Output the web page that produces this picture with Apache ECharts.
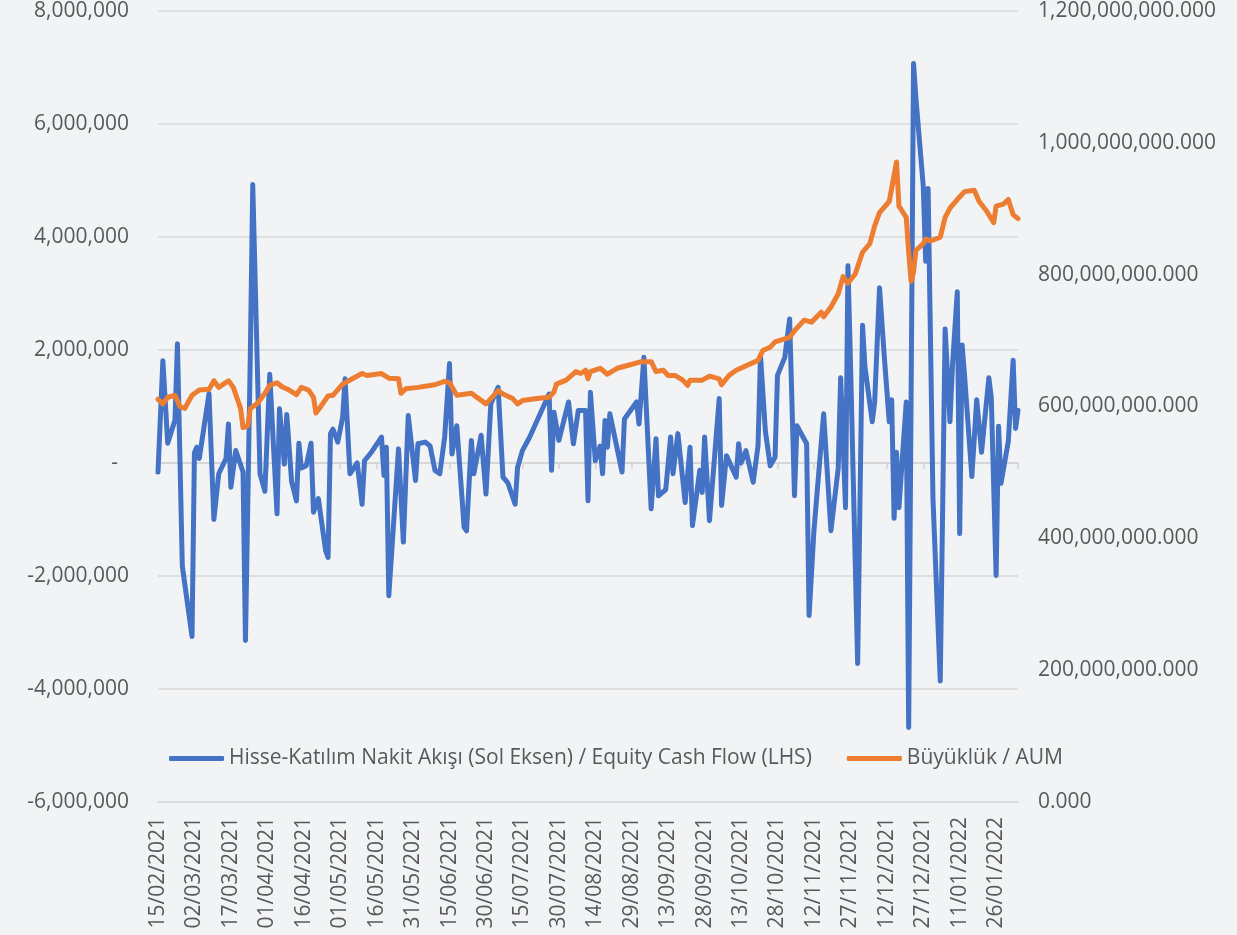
<!DOCTYPE html>
<html>
<head>
<meta charset="utf-8">
<title>Hisse-Katılım Nakit Akışı / Büyüklük</title>
<script src="https://cdn.jsdelivr.net/npm/echarts@6/dist/echarts.min.js"></script>
<style>
  html, body { margin: 0; padding: 0; background: #f2f3f5; }
  #chart { width: 1237px; height: 935px; }
</style>
</head>
<body>
<div id="chart"></div>
<script>
// Hisse-Katılım nakit akışı, milyon (sol eksen)
var flowDates = [
  '2021-02-15','2021-02-17','2021-02-19','2021-02-22','2021-02-23','2021-02-25',
  '2021-03-01','2021-03-02','2021-03-03','2021-03-04','2021-03-08','2021-03-10','2021-03-12','2021-03-15','2021-03-16','2021-03-17','2021-03-19','2021-03-22','2021-03-23','2021-03-25','2021-03-26','2021-03-29','2021-03-31',
  '2021-04-02','2021-04-05','2021-04-06','2021-04-08','2021-04-09','2021-04-11','2021-04-13','2021-04-14','2021-04-15','2021-04-17','2021-04-19','2021-04-20','2021-04-22','2021-04-25','2021-04-26','2021-04-27','2021-04-28','2021-04-30',
  '2021-05-02','2021-05-03','2021-05-05','2021-05-08','2021-05-10','2021-05-11','2021-05-14','2021-05-18','2021-05-19','2021-05-20','2021-05-21','2021-05-25','2021-05-27','2021-05-29',
  '2021-06-01','2021-06-02','2021-06-05','2021-06-07','2021-06-09','2021-06-11','2021-06-13','2021-06-15','2021-06-16','2021-06-18','2021-06-21','2021-06-22','2021-06-24','2021-06-25','2021-06-28','2021-06-30',
  '2021-07-02','2021-07-05','2021-07-07','2021-07-09','2021-07-12','2021-07-13','2021-07-15','2021-07-18','2021-07-26','2021-07-27','2021-07-28','2021-07-30',
  '2021-08-03','2021-08-05','2021-08-07','2021-08-10','2021-08-11','2021-08-12','2021-08-14','2021-08-16','2021-08-17','2021-08-18','2021-08-19','2021-08-20','2021-08-25','2021-08-26','2021-08-31',
  '2021-09-01','2021-09-03','2021-09-06','2021-09-08','2021-09-09','2021-09-12','2021-09-14','2021-09-15','2021-09-17','2021-09-20','2021-09-22','2021-09-23','2021-09-26','2021-09-27','2021-09-28','2021-09-30',
  '2021-10-04','2021-10-05','2021-10-07','2021-10-11','2021-10-12','2021-10-13','2021-10-15','2021-10-18','2021-10-20','2021-10-21','2021-10-23','2021-10-25','2021-10-27','2021-10-28','2021-10-31',
  '2021-11-02','2021-11-04','2021-11-05','2021-11-09','2021-11-10','2021-11-12','2021-11-16','2021-11-19','2021-11-22','2021-11-23','2021-11-25','2021-11-26','2021-11-27','2021-11-30',
  '2021-12-02','2021-12-03','2021-12-06','2021-12-07','2021-12-09','2021-12-11','2021-12-13','2021-12-14','2021-12-15','2021-12-16','2021-12-17','2021-12-20','2021-12-21','2021-12-23','2021-12-24','2021-12-27','2021-12-28','2021-12-29','2021-12-31',
  '2022-01-03','2022-01-05','2022-01-07','2022-01-08','2022-01-10','2022-01-11','2022-01-12','2022-01-13','2022-01-16','2022-01-18','2022-01-20','2022-01-23','2022-01-24','2022-01-26','2022-01-27','2022-01-28','2022-01-31',
  '2022-02-02','2022-02-03','2022-02-04'
];
var flowValues = [
  -0.16, 1.81, 0.35, 0.76, 2.11, -1.82,
  -3.07, 0.18, 0.28, 0.08, 1.23, -1.0, -0.19, 0.08, 0.69, -0.43, 0.22, -0.16, -3.14, 1.91, 4.93, -0.19, -0.5,
  1.57, -0.9, 0.96, -0.02, 0.86, -0.33, -0.67, 0.35, -0.09, -0.05, 0.35, -0.87, -0.63, -1.55, -1.67, 0.52, 0.6, 0.37,
  0.81, 1.49, -0.19, 0.0, -0.73, 0.04, 0.2, 0.46, -0.22, 0.28, -2.35, 0.25, -1.4, 0.84,
  -0.31, 0.34, 0.37, 0.3, -0.13, -0.19, 0.46, 1.76, 0.16, 0.66, -1.14, -1.2, 0.4, -0.19, 0.49, -0.55,
  1.05, 1.34, -0.25, -0.35, -0.73, -0.08, 0.22, 0.46, 1.22, -0.13, 0.9, 0.4,
  1.08, 0.34, 0.93, 0.93, -0.67, 1.25, 0.04, 0.3, -0.19, 0.75, 0.28, 0.87, -0.16, 0.78, 1.08,
  0.69, 1.87, -0.81, 0.43, -0.58, -0.47, 0.46, -0.19, 0.52, -0.7, 0.28, -1.11, -0.13, -0.52, 0.46, -1.02,
  1.14, -0.75, 0.13, -0.25, 0.34, 0.0, 0.22, -0.34, 0.31, 1.9, 0.57, -0.05, 0.1, 1.55, 1.87,
  2.55, -0.58, 0.66, 0.34, -2.7, -1.2, 0.87, -1.2, -0.09, 1.51, -0.79, 3.49, 1.86, -3.55,
  2.44, 1.7, 0.73, 1.08, 3.1, 1.86, 0.73, 1.12, -0.98, 0.19, -0.79, 1.08, -4.68, 7.07, 6.45, 4.9, 3.57, 4.86, -0.63,
  -3.86, 2.37, 0.73, 1.7, 3.03, -1.25, 2.09, 1.55, -0.24, 1.12, 0.19, 1.51, 1.16, -1.99, 0.65, -0.36, 0.38,
  1.82, 0.61, 0.93
];

// Büyüklük (AUM), milyon (sağ eksen)
var aumDates = [
  '2021-02-15','2021-02-17','2021-02-19','2021-02-22','2021-02-24','2021-02-26',
  '2021-03-01','2021-03-04','2021-03-08','2021-03-10','2021-03-12','2021-03-16','2021-03-18','2021-03-21','2021-03-22','2021-03-24','2021-03-25','2021-03-28','2021-03-31',
  '2021-04-02','2021-04-05','2021-04-07','2021-04-10','2021-04-13','2021-04-15','2021-04-18','2021-04-20','2021-04-21','2021-04-23','2021-04-26','2021-04-28',
  '2021-05-02','2021-05-06','2021-05-10','2021-05-12','2021-05-18','2021-05-21','2021-05-25','2021-05-26','2021-05-28',
  '2021-06-02','2021-06-09','2021-06-13','2021-06-15','2021-06-18','2021-06-24','2021-06-30',
  '2021-07-02','2021-07-05','2021-07-07','2021-07-11','2021-07-13','2021-07-15','2021-07-21','2021-07-26','2021-07-28','2021-07-29',
  '2021-08-02','2021-08-06','2021-08-08','2021-08-10','2021-08-11','2021-08-12','2021-08-16','2021-08-19','2021-08-23','2021-08-28',
  '2021-09-02','2021-09-06','2021-09-08','2021-09-11','2021-09-13','2021-09-16','2021-09-19','2021-09-21','2021-09-22','2021-09-27','2021-09-30',
  '2021-10-04','2021-10-05','2021-10-08','2021-10-11','2021-10-20','2021-10-22','2021-10-25','2021-10-27',
  '2021-11-02','2021-11-04','2021-11-08','2021-11-11','2021-11-15','2021-11-16','2021-11-19','2021-11-22','2021-11-24','2021-11-26','2021-11-29',
  '2021-12-02','2021-12-05','2021-12-07','2021-12-09','2021-12-13','2021-12-14','2021-12-16','2021-12-17','2021-12-20','2021-12-21','2021-12-22','2021-12-23','2021-12-24','2021-12-27','2021-12-28','2021-12-30',
  '2022-01-03','2022-01-05','2022-01-07','2022-01-10','2022-01-13','2022-01-17','2022-01-19','2022-01-22','2022-01-25','2022-01-26','2022-01-29','2022-01-31',
  '2022-02-02','2022-02-04'
];
var aumValues = [
  611, 604, 614, 617, 600, 597,
  617, 625, 626, 639, 629, 639, 629, 597, 568, 571, 597, 605, 620,
  632, 636, 630, 625, 618, 629, 625, 614, 590, 600, 616, 617,
  634, 642, 650, 647, 650, 643, 642, 620, 627,
  629, 633, 638, 636, 617, 620, 604,
  612, 624, 619, 612, 604, 609, 612, 614, 622, 634,
  640, 653, 650, 655, 642, 653, 658, 649, 658, 663,
  668, 668, 653, 655, 647, 647, 640, 632, 640, 640, 646,
  642, 633, 647, 655, 670, 685, 690, 698,
  705, 715, 731, 728, 743, 736, 751, 771, 797, 787, 801,
  834, 847, 874, 894, 911, 931, 971, 904, 887, 834, 790, 804, 837, 847, 854, 851,
  857, 887, 901, 914, 926, 928, 911, 897, 879, 904, 907, 914,
  891, 885
];

var startDate = '2021-02-15';
var lastDay = 354;
var dayMs = 86400000;

var font = 'Open Sans';
var textColor = '#595959';

function dayIndex(s) {
  return Math.round((Date.parse(s) - Date.parse(startDate)) / dayMs);
}

function pad(n) {
  return n < 10 ? '0' + n : '' + n;
}

function dateLabel(d) {
  if (d % 15 !== 0) return '';
  var t = new Date(Date.parse(startDate) + d * dayMs);
  return pad(t.getUTCDate()) + '/' + pad(t.getUTCMonth() + 1) + '/' + t.getUTCFullYear();
}

var flowData = flowDates.map(function (d, i) { return [dayIndex(d), flowValues[i]]; });
var aumData = aumDates.map(function (d, i) { return [dayIndex(d), aumValues[i]]; });

var chart = echarts.init(document.getElementById('chart'), null, { renderer: 'canvas' });

var option = {
  backgroundColor: '#f2f3f5',
  animation: false,
  grid: {
    left: 158,
    right: 219,
    top: 11,
    bottom: 133,
    containLabel: false
  },
  legend: {
    top: 743,
    left: 164,
    itemWidth: 55,
    itemHeight: 5,
    itemGap: 35,
    icon: 'roundRect',
    textStyle: { fontFamily: font, fontSize: 21, color: textColor },
    data: [
      'Hisse-Katılım Nakit Akışı (Sol Eksen) / Equity Cash Flow (LHS)',
      'Büyüklük / AUM'
    ]
  },
  xAxis: [
    {
      type: 'value',
      min: 0,
      max: lastDay,
      interval: 15,
      axisLine: { show: true, onZero: false, lineStyle: { color: '#d9d9d9', width: 1.5 } },
      axisTick: { show: false },
      splitLine: { show: false },
      axisLabel: {
        rotate: 90,
        margin: 15,
        showMaxLabel: false,
        fontFamily: font,
        fontSize: 21,
        color: textColor,
        formatter: dateLabel
      }
    },
    {
      // zero line with its small tick marks
      type: 'value',
      min: 0,
      max: lastDay,
      interval: 15,
      position: 'bottom',
      axisLine: { show: true, onZero: true, onZeroAxisIndex: 0, lineStyle: { color: '#d4d4d4', width: 1.5 } },
      axisTick: { show: true, length: 6, lineStyle: { color: '#d4d4d4', width: 1.5 } },
      axisLabel: { show: false },
      splitLine: { show: false }
    }
  ],
  yAxis: [
    {
      type: 'value',
      min: -6,
      max: 8,
      interval: 2,
      position: 'left',
      axisLine: { show: false, onZero: false },
      axisTick: { show: false },
      splitLine: { show: true, lineStyle: { color: '#d9d9d9', width: 1.5 } },
      axisLabel: {
        margin: 29,
        fontFamily: font,
        fontSize: 21,
        color: textColor,
        formatter: function (v) {
          return v === 0 ? '-  ' : (v * 1e6).toLocaleString('en-US');
        }
      }
    },
    {
      type: 'value',
      min: 0,
      max: 1200,
      interval: 200,
      position: 'right',
      axisLine: { show: false, onZero: false },
      axisTick: { show: false },
      splitLine: { show: false },
      axisLabel: {
        margin: 20,
        fontFamily: font,
        fontSize: 21,
        color: textColor,
        formatter: function (v) {
          return (v * 1e6).toLocaleString('en-US') + '.000';
        }
      }
    }
  ],
  series: [
    {
      name: 'Hisse-Katılım Nakit Akışı (Sol Eksen) / Equity Cash Flow (LHS)',
      type: 'line',
      xAxisIndex: 0,
      yAxisIndex: 0,
      data: flowData,
      symbol: 'none',
      color: '#4472c4',
      lineStyle: { width: 5, color: '#4472c4', cap: 'round', join: 'round' }
    },
    {
      name: 'Büyüklük / AUM',
      type: 'line',
      xAxisIndex: 0,
      yAxisIndex: 1,
      data: aumData,
      symbol: 'none',
      color: '#ed7d31',
      lineStyle: { width: 5, color: '#ed7d31', cap: 'round', join: 'round' }
    }
  ]
};

chart.setOption(option);
</script>
</body>
</html>
